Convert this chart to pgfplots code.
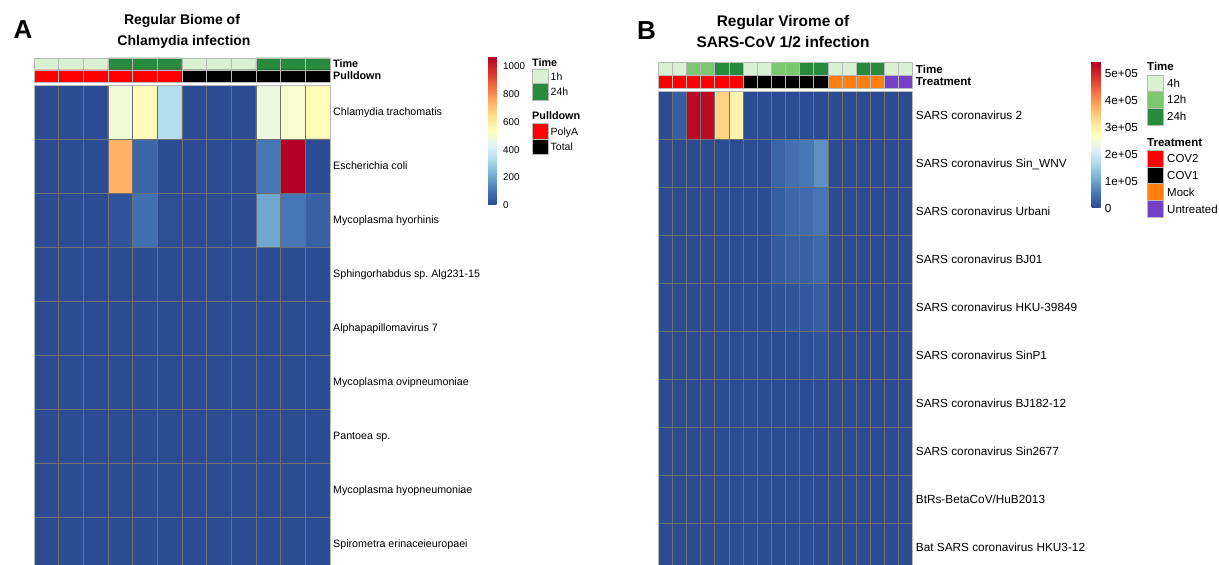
\documentclass[border=0pt]{standalone}
\usepackage{pgfplots}
\pgfplotsset{compat=1.18}
\usepackage{fontspec}
\setmainfont{Liberation Sans}
\frenchspacing
\definecolor{tlight}{RGB}{217,240,211}
\definecolor{tmid}{RGB}{123,200,112}
\definecolor{tdark}{RGB}{40,138,60}
\definecolor{cred}{RGB}{255,0,0}
\definecolor{corange}{RGB}{255,128,16}
\definecolor{cpurple}{RGB}{117,64,200}
\definecolor{gridc}{RGB}{112,112,112}
\definecolor{bordc}{RGB}{185,185,185}
\pgfplotsset{
  colormap={heat}{rgb255=(43,75,147) rgb255=(69,117,180) rgb255=(116,173,209) rgb255=(171,217,233) rgb255=(224,243,248) rgb255=(255,255,191) rgb255=(254,224,144) rgb255=(253,174,97) rgb255=(244,109,67) rgb255=(215,48,39) rgb255=(180,0,38)},
  colormap={annA}{rgb255=(217,240,211) rgb255=(40,138,60) rgb255=(255,0,0) rgb255=(0,0,0)},
  colormap={annB}{rgb255=(217,240,211) rgb255=(123,200,112) rgb255=(40,138,60) rgb255=(255,0,0) rgb255=(0,0,0) rgb255=(255,128,16) rgb255=(117,64,200)},
  hm/.style={anchor=north west, scale only axis, y dir=reverse,
    major tick length=0pt, minor tick length=0pt, tick style={draw=none},
    xticklabels={}, grid=minor, axis on top,
    minor grid style={draw=gridc, line width=0.75pt},
    axis line style={draw=bordc, line width=0.7pt},
    yticklabel pos=right},
}
\begin{document}
\begin{tikzpicture}[x=1pt,y=1pt]
\useasboundingbox (0,0) rectangle (1219,565);

% ---------------- Panel A ----------------
\node[font=\fontsize{26}{30}\selectfont\bfseries] at (23,535) {A};
\node[anchor=base, font=\fontsize{14}{16}\selectfont\bfseries] at (182,540) {Regular Biome of};
\node[anchor=base, font=\fontsize{14}{16}\selectfont\bfseries] at (184,519.5) {Chlamydia infection};

\begin{axis}[hm, at={(34pt,507pt)}, width=296pt, height=24pt,
  xmin=0.5, xmax=12.5, ymin=0.5, ymax=2.5,
  xtick={1,...,12}, minor xtick={1.5,2.5,...,11.5},
  ytick={1,2}, yticklabels={Time,Pulldown}, minor ytick={1.5},
  minor grid style={draw=bordc, line width=0.7pt},
  yticklabel style={font=\fontsize{10.8}{12}\selectfont\bfseries, anchor=base west, inner sep=0pt, xshift=3pt, yshift=-3.9pt},
  colormap name=annA, colormap access=direct]
\addplot[matrix plot*, mesh/cols=12, point meta=explicit] table[row sep=\\, meta=C]{
x y C\\
1 1 0\\ 2 1 0\\ 3 1 0\\ 4 1 1\\ 5 1 1\\ 6 1 1\\ 7 1 0\\ 8 1 0\\ 9 1 0\\ 10 1 1\\ 11 1 1\\ 12 1 1\\
1 2 2\\ 2 2 2\\ 3 2 2\\ 4 2 2\\ 5 2 2\\ 6 2 2\\ 7 2 3\\ 8 2 3\\ 9 2 3\\ 10 2 3\\ 11 2 3\\ 12 2 3\\
};
\end{axis}

\begin{axis}[hm, at={(34pt,480pt)}, width=296pt, height=486pt,
  xmin=0.5, xmax=12.5, ymin=0.5, ymax=9.5,
  xtick={1,...,12}, minor xtick={1.5,2.5,...,11.5},
  ytick={1,...,9}, minor ytick={1.5,2.5,...,8.5},
  yticklabels={Chlamydia trachomatis,Escherichia coli,Mycoplasma hyorhinis,Sphingorhabdus sp. Alg231-15,Alphapapillomavirus 7,Mycoplasma ovipneumoniae,Pantoea sp.,Mycoplasma hyopneumoniae,Spirometra erinaceieuropaei},
  yticklabel style={font=\fontsize{10.7}{12}\selectfont, anchor=base west, inner sep=0pt, xshift=3pt, yshift=-3.85pt},
  colormap name=heat, point meta min=0, point meta max=1070,
  colorbar,
  colorbar style={at={(parent axis.north east)}, anchor=north west,
    xshift=149.5pt, yshift=28.3pt,
    scale only axis, width=8.5pt, height=148.3pt,
    ytick={0,200,400,600,800,1000}, yticklabels={0,200,400,600,800,1000},
    major tick length=0pt, tick style={draw=none}, axis line style={draw=none},
    yticklabel style={font=\fontsize{9.8}{11}\selectfont, anchor=base west, inner sep=0pt, xshift=6.5pt, yshift=-3.5pt}}]
\addplot[matrix plot*, mesh/cols=12, point meta=explicit] table[row sep=\\, meta=C]{
x y C\\
1 1 0\\ 2 1 0\\ 3 1 0\\ 4 1 488\\ 5 1 545\\ 6 1 342\\ 7 1 0\\ 8 1 0\\ 9 1 0\\ 10 1 476\\ 11 1 503\\ 12 1 546\\
1 2 0\\ 2 2 0\\ 3 2 0\\ 4 2 738\\ 5 2 68\\ 6 2 0\\ 7 2 0\\ 8 2 0\\ 9 2 0\\ 10 2 112\\ 11 2 1070\\ 12 2 0\\
1 3 0\\ 2 3 0\\ 3 3 0\\ 4 3 21\\ 5 3 96\\ 6 3 11\\ 7 3 0\\ 8 3 0\\ 9 3 0\\ 10 3 203\\ 11 3 107\\ 12 3 59\\
1 4 0\\ 2 4 0\\ 3 4 0\\ 4 4 0\\ 5 4 0\\ 6 4 0\\ 7 4 0\\ 8 4 0\\ 9 4 0\\ 10 4 0\\ 11 4 0\\ 12 4 0\\
1 5 0\\ 2 5 0\\ 3 5 0\\ 4 5 0\\ 5 5 0\\ 6 5 0\\ 7 5 0\\ 8 5 0\\ 9 5 0\\ 10 5 0\\ 11 5 0\\ 12 5 0\\
1 6 0\\ 2 6 0\\ 3 6 0\\ 4 6 0\\ 5 6 0\\ 6 6 0\\ 7 6 0\\ 8 6 0\\ 9 6 0\\ 10 6 0\\ 11 6 0\\ 12 6 0\\
1 7 0\\ 2 7 0\\ 3 7 0\\ 4 7 0\\ 5 7 0\\ 6 7 0\\ 7 7 0\\ 8 7 0\\ 9 7 0\\ 10 7 0\\ 11 7 0\\ 12 7 0\\
1 8 0\\ 2 8 0\\ 3 8 0\\ 4 8 0\\ 5 8 0\\ 6 8 0\\ 7 8 0\\ 8 8 0\\ 9 8 0\\ 10 8 0\\ 11 8 0\\ 12 8 0\\
1 9 0\\ 2 9 0\\ 3 9 0\\ 4 9 0\\ 5 9 0\\ 6 9 0\\ 7 9 0\\ 8 9 0\\ 9 9 0\\ 10 9 0\\ 11 9 0\\ 12 9 0\\
};
\end{axis}

% Legend A
\begin{scope}[font=\fontsize{10.5}{12}\selectfont]
\node[anchor=base west, inner sep=0pt, font=\fontsize{10.8}{12}\selectfont\bfseries] at (532,498.8) {Time};
\draw[draw=bordc, fill=tlight] (532,496) rectangle (548,481.7);
\draw[draw=bordc, fill=tdark] (532,481.7) rectangle (548,465);
\node[anchor=base west, inner sep=0pt] at (550.5,484.9) {1h};
\node[anchor=base west, inner sep=0pt] at (550.5,469.2) {24h};
\node[anchor=base west, inner sep=0pt, font=\fontsize{10.8}{12}\selectfont\bfseries] at (532,445.1) {Pulldown};
\draw[draw=bordc, fill=cred] (532,441.7) rectangle (548,425.7);
\draw[draw=bordc, fill=black] (532,425.7) rectangle (548,411);
\node[anchor=base west, inner sep=0pt] at (550.5,429.7) {PolyA};
\node[anchor=base west, inner sep=0pt] at (550.5,414.2) {Total};
\end{scope}

% ---------------- Panel B ----------------
\node[font=\fontsize{26}{30}\selectfont\bfseries] at (646.5,534.5) {B};
\node[anchor=base, font=\fontsize{15.4}{18}\selectfont\bfseries] at (783,538.5) {Regular Virome of};
\node[anchor=base, font=\fontsize{15.4}{18}\selectfont\bfseries] at (783,517) {SARS-CoV 1/2 infection};

\begin{axis}[hm, at={(658.3pt,502.5pt)}, width=254.4pt, height=25.5pt,
  xmin=0.5, xmax=18.5, ymin=0.5, ymax=2.5,
  xtick={1,...,18}, minor xtick={1.5,2.5,...,17.5},
  ytick={1,2}, yticklabels={Time,Treatment}, minor ytick={1.5},
  minor grid style={draw=bordc, line width=0.7pt},
  yticklabel style={font=\fontsize{11.6}{13}\selectfont\bfseries, anchor=base west, inner sep=0pt, xshift=3pt, yshift=-4.2pt},
  colormap name=annB, colormap access=direct]
\addplot[matrix plot*, mesh/cols=18, point meta=explicit] table[row sep=\\, meta=C]{
x y C\\
1 1 0\\ 2 1 0\\ 3 1 1\\ 4 1 1\\ 5 1 2\\ 6 1 2\\ 7 1 0\\ 8 1 0\\ 9 1 1\\ 10 1 1\\ 11 1 2\\ 12 1 2\\ 13 1 0\\ 14 1 0\\ 15 1 2\\ 16 1 2\\ 17 1 0\\ 18 1 0\\
1 2 3\\ 2 2 3\\ 3 2 3\\ 4 2 3\\ 5 2 3\\ 6 2 3\\ 7 2 4\\ 8 2 4\\ 9 2 4\\ 10 2 4\\ 11 2 4\\ 12 2 4\\ 13 2 5\\ 14 2 5\\ 15 2 5\\ 16 2 5\\ 17 2 6\\ 18 2 6\\
};
\end{axis}

\begin{axis}[hm, at={(658.3pt,474pt)}, width=254.4pt, height=480pt,
  xmin=0.5, xmax=18.5, ymin=0.5, ymax=10.5,
  xtick={1,...,18}, minor xtick={1.5,2.5,...,17.5},
  ytick={1,...,10}, minor ytick={1.5,2.5,...,9.5},
  yticklabels={SARS coronavirus 2,SARS coronavirus Sin\_WNV,SARS coronavirus Urbani,SARS coronavirus BJ01,SARS coronavirus HKU-39849,SARS coronavirus SinP1,SARS coronavirus BJ182-12,SARS coronavirus Sin2677,BtRs-BetaCoV/HuB2013,Bat SARS coronavirus HKU3-12},
  yticklabel style={font=\fontsize{11.8}{13}\selectfont, anchor=base west, inner sep=0pt, xshift=3pt, yshift=-4.25pt},
  colormap name=heat, point meta min=0, point meta max=540000,
  colorbar,
  colorbar style={at={(parent axis.north east)}, anchor=north west,
    xshift=170.5pt, yshift=29pt,
    scale only axis, width=9pt, height=146pt,
    ytick={0,100000,200000,300000,400000,500000}, yticklabels={0,1e+05,2e+05,3e+05,4e+05,5e+05},
    scaled y ticks=false,
    major tick length=0pt, tick style={draw=none}, axis line style={draw=none},
    yticklabel style={font=\fontsize{11.7}{13}\selectfont, anchor=base west, inner sep=0pt, xshift=4pt, yshift=-4.2pt}}]
\addplot[matrix plot*, mesh/cols=18, point meta=explicit] table[row sep=\\, meta=C]{
x y C\\
1 1 0\\ 2 1 24000\\ 3 1 529000\\ 4 1 529000\\ 5 1 337000\\ 6 1 292000\\ 7 1 0\\ 8 1 0\\ 9 1 0\\ 10 1 0\\ 11 1 0\\ 12 1 0\\ 13 1 0\\ 14 1 0\\ 15 1 0\\ 16 1 0\\ 17 1 0\\ 18 1 0\\
1 2 0\\ 2 2 0\\ 3 2 0\\ 4 2 0\\ 5 2 0\\ 6 2 0\\ 7 2 0\\ 8 2 0\\ 9 2 32000\\ 10 2 46000\\ 11 2 57000\\ 12 2 81000\\ 13 2 0\\ 14 2 0\\ 15 2 0\\ 16 2 0\\ 17 2 0\\ 18 2 0\\
1 3 0\\ 2 3 0\\ 3 3 0\\ 4 3 0\\ 5 3 0\\ 6 3 0\\ 7 3 0\\ 8 3 0\\ 9 3 24000\\ 10 3 38000\\ 11 3 43000\\ 12 3 54000\\ 13 3 0\\ 14 3 0\\ 15 3 0\\ 16 3 0\\ 17 3 0\\ 18 3 0\\
1 4 0\\ 2 4 0\\ 3 4 0\\ 4 4 0\\ 5 4 0\\ 6 4 0\\ 7 4 0\\ 8 4 0\\ 9 4 19000\\ 10 4 27000\\ 11 4 30000\\ 12 4 40000\\ 13 4 0\\ 14 4 0\\ 15 4 0\\ 16 4 0\\ 17 4 0\\ 18 4 0\\
1 5 0\\ 2 5 0\\ 3 5 0\\ 4 5 0\\ 5 5 0\\ 6 5 0\\ 7 5 0\\ 8 5 0\\ 9 5 8000\\ 10 5 11000\\ 11 5 16000\\ 12 5 24000\\ 13 5 0\\ 14 5 0\\ 15 5 0\\ 16 5 0\\ 17 5 0\\ 18 5 0\\
1 6 0\\ 2 6 0\\ 3 6 0\\ 4 6 0\\ 5 6 0\\ 6 6 0\\ 7 6 0\\ 8 6 0\\ 9 6 0\\ 10 6 0\\ 11 6 5000\\ 12 6 11000\\ 13 6 0\\ 14 6 0\\ 15 6 0\\ 16 6 0\\ 17 6 0\\ 18 6 0\\
1 7 0\\ 2 7 0\\ 3 7 0\\ 4 7 0\\ 5 7 0\\ 6 7 0\\ 7 7 0\\ 8 7 0\\ 9 7 0\\ 10 7 0\\ 11 7 0\\ 12 7 4000\\ 13 7 0\\ 14 7 0\\ 15 7 0\\ 16 7 0\\ 17 7 0\\ 18 7 0\\
1 8 0\\ 2 8 0\\ 3 8 0\\ 4 8 0\\ 5 8 0\\ 6 8 0\\ 7 8 0\\ 8 8 0\\ 9 8 0\\ 10 8 0\\ 11 8 0\\ 12 8 0\\ 13 8 0\\ 14 8 0\\ 15 8 0\\ 16 8 0\\ 17 8 0\\ 18 8 0\\
1 9 0\\ 2 9 0\\ 3 9 0\\ 4 9 0\\ 5 9 0\\ 6 9 0\\ 7 9 0\\ 8 9 0\\ 9 9 0\\ 10 9 0\\ 11 9 0\\ 12 9 0\\ 13 9 0\\ 14 9 0\\ 15 9 0\\ 16 9 0\\ 17 9 0\\ 18 9 0\\
1 10 0\\ 2 10 0\\ 3 10 0\\ 4 10 0\\ 5 10 0\\ 6 10 0\\ 7 10 0\\ 8 10 0\\ 9 10 0\\ 10 10 0\\ 11 10 0\\ 12 10 0\\ 13 10 0\\ 14 10 0\\ 15 10 0\\ 16 10 0\\ 17 10 0\\ 18 10 0\\
};
\end{axis}

% Legend B
\begin{scope}[font=\fontsize{11.5}{13}\selectfont]
\node[anchor=base west, inner sep=0pt, font=\fontsize{11.5}{13}\selectfont\bfseries] at (1147,494.9) {Time};
\draw[draw=bordc, fill=tlight] (1147,489.5) rectangle (1163,473.5);
\draw[draw=bordc, fill=tmid] (1147,473.5) rectangle (1163,457);
\draw[draw=bordc, fill=tdark] (1147,457) rectangle (1163,440);
\node[anchor=base west, inner sep=0pt] at (1167,477.9) {4h};
\node[anchor=base west, inner sep=0pt] at (1167,461.4) {12h};
\node[anchor=base west, inner sep=0pt] at (1167,444.4) {24h};
\node[anchor=base west, inner sep=0pt, font=\fontsize{11.5}{13}\selectfont\bfseries] at (1147,418.9) {Treatment};
\draw[draw=bordc, fill=cred] (1147,415) rectangle (1163,398);
\draw[draw=bordc, fill=black] (1147,398) rectangle (1163,381.5);
\draw[draw=bordc, fill=corange] (1147,381.5) rectangle (1163,364.5);
\draw[draw=bordc, fill=cpurple] (1147,364.5) rectangle (1163,348);
\node[anchor=base west, inner sep=0pt] at (1167,402.4) {COV2};
\node[anchor=base west, inner sep=0pt] at (1167,385.4) {COV1};
\node[anchor=base west, inner sep=0pt] at (1167,368.9) {Mock};
\node[anchor=base west, inner sep=0pt] at (1167,351.9) {Untreated};
\end{scope}
\end{tikzpicture}
\end{document}
